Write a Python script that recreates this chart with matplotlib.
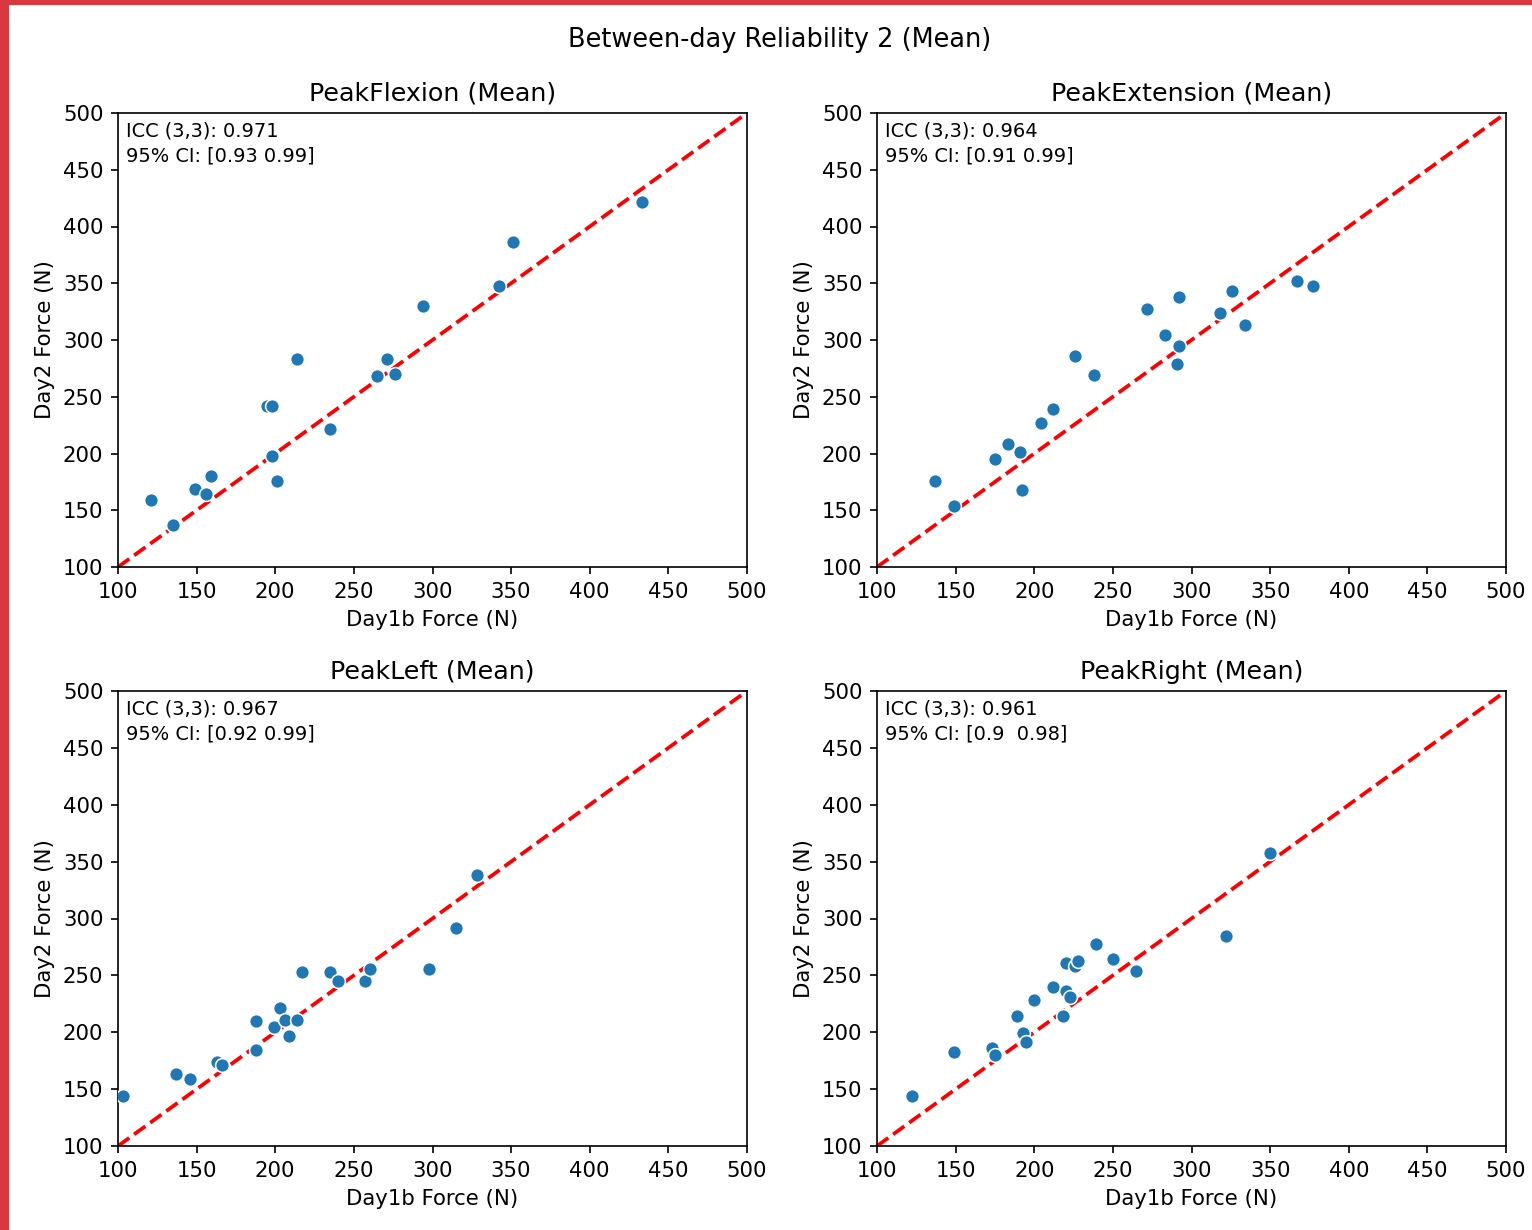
import matplotlib
matplotlib.use("Agg")
import matplotlib.pyplot as plt
from matplotlib.patches import Rectangle
import numpy as np

# values
flexionDay1 = [121, 135, 149, 156, 159, 195, 198, 198, 201, 214, 235, 265, 271, 276, 294, 342, 351, 433]
flexionDay2 = [159, 137, 169, 164, 180, 242, 242, 198, 176, 283, 222, 268, 283, 270, 330, 348, 386, 422]

extensionDay1 = [137, 149, 175, 183, 191, 192, 204, 212, 226, 238, 272, 283, 292, 292, 291, 318, 326, 334, 367, 377]
extensionDay2 = [176, 154, 195, 208, 201, 168, 227, 239, 286, 269, 327, 304, 338, 295, 279, 324, 343, 313, 352, 348]

leftDay1 = [103, 137, 146, 163, 166, 188, 188, 199, 203, 206, 209, 214, 217, 235, 240, 257, 260, 298, 315, 328]
leftDay2 = [144, 163, 159, 174, 171, 210, 184, 205, 221, 211, 197, 211, 253, 253, 245, 245, 256, 256, 292, 338]

rightDay1 = [122, 149, 173, 175, 189, 193, 195, 200, 212, 218, 220, 220, 223, 226, 228, 239, 250, 265, 322, 350]
rightDay2 = [144, 183, 186, 180, 214, 199, 191, 228, 240, 214, 261, 236, 231, 258, 263, 278, 264, 254, 285, 358]

panelTitles = ["PeakFlexion (Mean)", "PeakExtension (Mean)", "PeakLeft (Mean)", "PeakRight (Mean)"]
iccValues = [0.971, 0.964, 0.967, 0.961]
ciLabels = ["[0.93 0.99]", "[0.91 0.99]", "[0.92 0.99]", "[0.9  0.98]"]
ticks = [100, 150, 200, 250, 300, 350, 400, 450, 500]

panels = [
    (flexionDay1, flexionDay2),
    (extensionDay1, extensionDay2),
    (leftDay1, leftDay2),
    (rightDay1, rightDay2),
]

plt.rcParams["font.size"] = 10.2
plt.rcParams["axes.titlesize"] = 12.2

W, H = 1532, 1230
fig = plt.figure(figsize=(W / 150, H / 150), dpi=150)

# axes boxes in pixels: left, right, top, bottom
boxes = [
    (118, 747, 113, 567),
    (877, 1506, 113, 567),
    (118, 747, 691, 1146),
    (877, 1506, 691, 1146),
]

for (x0, x1, y0, y1), (day1, day2), title, icc, ci in zip(boxes, panels, panelTitles, iccValues, ciLabels):
    ax = fig.add_axes([x0 / W, 1 - y1 / H, (x1 - x0) / W, (y1 - y0) / H])
    ax.scatter(day1, day2, s=44, color="#1f77b4", edgecolor="white", linewidth=0.75, zorder=3)
    ax.plot([100, 500], [100, 500], "r--", linewidth=1.8, zorder=2)
    ax.set_xlim(100, 500)
    ax.set_ylim(100, 500)
    ax.set_xticks(ticks)
    ax.set_yticks(ticks)
    ax.set_title(title)
    ax.set_xlabel("Day1b Force (N)")
    ax.set_ylabel("Day2 Force (N)")
    ax.text(0.012, 0.982, f"ICC (3,3): {icc}\n95% CI: {ci}", transform=ax.transAxes,
            ha="left", va="top", fontsize=9.3, linespacing=1.4)

fig.text(780 / W, 1 - 40 / H, "Between-day Reliability 2 (Mean)", ha="center", va="center", fontsize=12.3)

# red frame of the screenshot
fig.patches.append(Rectangle((0, 0), 8 / W, 1, transform=fig.transFigure, color="#d9383f", zorder=10))
fig.patches.append(Rectangle((0, 1 - 4 / H), 1, 4 / H, transform=fig.transFigure, color="#d9383f", zorder=10))

fig.savefig("out.png", dpi=150)
plt.close(fig)
